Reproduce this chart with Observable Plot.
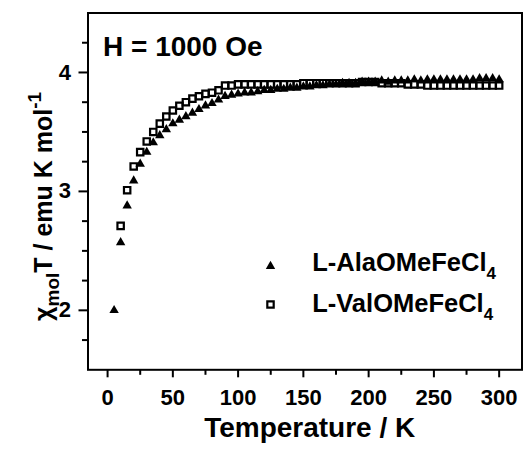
<!DOCTYPE html>
<html><head><meta charset="utf-8">
<script src="https://cdn.jsdelivr.net/npm/d3@7"></script>
<script src="https://cdn.jsdelivr.net/npm/@observablehq/plot@0.6"></script>
<style>body{margin:0;background:#fff;} #chart{width:524px;height:453px;}</style>
</head><body><div id="chart"></div>
<script>
// L-AlaOMeFeCl4 (triangles)
const alaT = [5,10,15,20,25,30,35,40,45,50,55,60,65,70,75,80,85,90,95,100,105,110,115,120,125,130,135,140,145,150,155,160,165,170,175,180,185,190,195,200,205,210,215,220,225,230,235,240,245,250,255,260,265,270,275,280,285,290,295,300];
const alaChiT = [2.00,2.57,2.88,3.09,3.23,3.33,3.41,3.47,3.52,3.57,3.60,3.63,3.66,3.69,3.72,3.74,3.77,3.80,3.81,3.82,3.83,3.83,3.84,3.85,3.85,3.86,3.86,3.87,3.87,3.88,3.88,3.89,3.89,3.90,3.90,3.91,3.91,3.91,3.92,3.92,3.92,3.93,3.92,3.93,3.93,3.93,3.94,3.93,3.94,3.94,3.94,3.94,3.94,3.94,3.94,3.94,3.95,3.95,3.95,3.94];
// L-ValOMeFeCl4 (squares)
const valT = [10,15,20,25,30,35,40,45,50,55,60,65,70,75,80,85,90,95,100,105,110,115,120,125,130,135,140,145,150,155,160,165,170,175,180,185,190,195,200,205,210,215,220,225,230,235,240,245,250,255,260,265,270,275,280,285,290,295,300];
const valChiT = [2.71,3.01,3.21,3.33,3.42,3.50,3.57,3.63,3.68,3.72,3.75,3.78,3.80,3.82,3.83,3.85,3.89,3.89,3.90,3.90,3.90,3.90,3.90,3.90,3.90,3.90,3.90,3.90,3.91,3.91,3.91,3.91,3.91,3.91,3.91,3.91,3.91,3.92,3.92,3.92,3.91,3.91,3.91,3.91,3.90,3.90,3.90,3.89,3.89,3.89,3.89,3.89,3.89,3.89,3.89,3.89,3.89,3.89,3.89];

const xMajorTicks = [0,50,100,150,200,250,300];
const xMinorTicks = [25,75,125,175,225,275];
const yMajorTicks = [2,3,4];
const yMinorTicks = [1.75,2.25,2.5,2.75,3.25,3.5,3.75,4.25];
const seriesNames = ["L-AlaOMeFeCl4","L-ValOMeFeCl4"];
const fieldLabel = "H = 1000 Oe";
const xTitle = "Temperature / K";
const yTitle = "χmolT / emu K mol-1";

const ala = alaT.map((t,i)=>({T:t, v:alaChiT[i]}));
const val = valT.map((t,i)=>({T:t, v:valChiT[i]}));

const plot = Plot.plot({
  width:524, height:453,
  marginLeft:87.5, marginRight:2.5, marginTop:12.5, marginBottom:83.7,
  style:{fontFamily:"'Liberation Sans', Arial, sans-serif", fontWeight:"bold", color:"black", background:"white"},
  x:{domain:[-15,317.5]},
  y:{domain:[1.5,4.5]},
  marks:[
    Plot.axisX({ticks:xMajorTicks, tickSize:8, tickFormat:()=>"", strokeWidth:2, label:null}),
    Plot.axisX({ticks:xMinorTicks, tickSize:5.5, tickFormat:()=>"", strokeWidth:2, label:null}),
    Plot.axisY({ticks:yMajorTicks, tickSize:9, tickFormat:()=>"", strokeWidth:2, label:null}),
    Plot.axisY({ticks:yMinorTicks, tickSize:5.5, tickFormat:()=>"", strokeWidth:2, label:null}),
    Plot.text(xMajorTicks, {x:d=>d, frameAnchor:"bottom", dy:20, text:d=>String(d), textAnchor:"middle", lineAnchor:"top", fontSize:22, fontWeight:"bold"}),
    Plot.text(yMajorTicks, {y:d=>d, frameAnchor:"left", dx:-17, text:d=>String(d), textAnchor:"end", lineAnchor:"middle", fontSize:22, fontWeight:"bold"}),
    Plot.dot(ala, {x:"T", y:"v", symbol:"triangle", r:3.5, fill:"black"}),
    Plot.dot(val, {x:"T", y:"v", symbol:"square", r:3.6, stroke:"black", strokeWidth:2.2, fill:"none"}),
    Plot.frame({stroke:"black", strokeWidth:2}),
    Plot.text([fieldLabel], {frameAnchor:"top-left", dx:15, dy:42.5, text:d=>d, textAnchor:"start", lineAnchor:"bottom", fontSize:28, fontWeight:"bold"}),
    Plot.dot([seriesNames[0]], {frameAnchor:"top-left", dx:182.5, dy:253.2, symbol:"triangle", r:3.5, fill:"black"}),
    Plot.dot([seriesNames[1]], {frameAnchor:"top-left", dx:182.5, dy:291.5, symbol:"square", r:3.6, stroke:"black", strokeWidth:2.2, fill:"none"}),
    Plot.text([seriesNames[0]], {frameAnchor:"top-left", dx:224.2, dy:257.5, text:d=>d, textAnchor:"start", lineAnchor:"bottom", fontSize:25.5, fontWeight:"bold"}),
    Plot.text([seriesNames[1]], {frameAnchor:"top-left", dx:224.2, dy:298.5, text:d=>d, textAnchor:"start", lineAnchor:"bottom", fontSize:25.5, fontWeight:"bold"}),
    Plot.text([xTitle], {frameAnchor:"bottom", dx:4.7, dy:66.7, text:d=>d, textAnchor:"middle", lineAnchor:"bottom", fontSize:28, fontWeight:"bold"}),
    Plot.text([yTitle], {frameAnchor:"left", rotate:-90, dx:-36, dy:15, text:d=>d, textAnchor:"middle", lineAnchor:"bottom", fontSize:25, fontWeight:"bold"})
  ]
});
document.getElementById("chart").appendChild(plot);

// thicker tick lines
d3.select(plot).selectAll("g[aria-label$='tick']").attr("stroke-width", 2).selectAll("path").attr("stroke-width", 2);

// rich text: subscripts / superscripts
d3.select(plot).selectAll("text").each(function(){
  const s = this.textContent;
  const el = d3.select(this);
  if (seriesNames.includes(s)) {
    el.text(null);
    el.append("tspan").text(s.slice(0,-1));
    el.append("tspan").attr("font-size",17).attr("dy",8).text(s.slice(-1));
  } else if (s === yTitle) {
    el.text(null);
    el.append("tspan").text("χ");
    el.append("tspan").attr("font-size",19).attr("dy",7).text("mol");
    el.append("tspan").attr("dy",-7).text("T / emu K mol");
    el.append("tspan").attr("font-size",19).attr("dy",-11).text("-1");
  }
});
</script>
</body></html>
